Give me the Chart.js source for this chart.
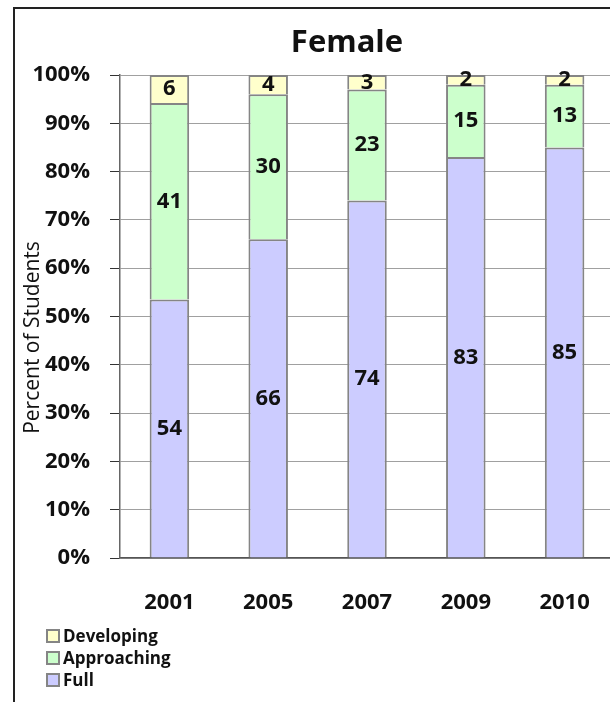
<!DOCTYPE html>
<html>
<head>
<meta charset="utf-8">
<script src="https://cdn.jsdelivr.net/npm/chart.js@4.4.1/dist/chart.umd.min.js"></script>
<style>
    html, body { margin: 0; padding: 0; background: #fff; overflow: hidden; }
    #wrap { position: relative; width: 610px; height: 702px; overflow: hidden; }
    #frame {
        position: absolute; left: 13px; top: 7px; width: 700px; height: 800px;
        border-left: 2px solid #222; border-top: 2px solid #222;
    }
    #chart { position: absolute; left: 0; top: 0; }
</style>
</head>
<body>
<div id="wrap">
    <div id="frame"></div>
    <canvas id="chart" width="640" height="702"></canvas>
</div>
<script>
const years = ['2001', '2005', '2007', '2009', '2010'];
const fullValues = [53.5, 66, 74, 83, 85];
const approachingValues = [40.7, 30, 23, 15, 13];
const developingValues = [5.8, 4, 3, 2, 2];
const chartTitle = 'Female';
const yAxisTitle = 'Percent of Students';

const fontFamily = '"Open Sans", "DejaVu Sans", sans-serif';
const barBorder = '#858585';

// numbers in the middle of each segment
const segmentLabels = {
    id: 'segmentLabels',
    afterDatasetsDraw(chart) {
        const { ctx } = chart;
        ctx.save();
        ctx.font = 'bold 22px ' + fontFamily;
        ctx.fillStyle = '#111';
        ctx.textAlign = 'center';
        ctx.textBaseline = 'middle';
        chart.data.datasets.forEach((dataset, i) => {
            const meta = chart.getDatasetMeta(i);
            meta.data.forEach((bar, j) => {
                const value = Math.round(dataset.data[j]);
                ctx.fillText(String(value), bar.x, (bar.y + bar.base) / 2);
            });
        });
        ctx.restore();
    }
};

// titles sit off-centre like the original, legend stacked under the axis
const titlesAndLegend = {
    id: 'titlesAndLegend',
    afterDraw(chart) {
        const { ctx, chartArea } = chart;
        ctx.save();
        ctx.font = 'bold 31px ' + fontFamily;
        ctx.fillStyle = '#111';
        ctx.textAlign = 'center';
        ctx.textBaseline = 'middle';
        ctx.fillText(chartTitle, (chartArea.left + chartArea.right) / 2 - 20, chartArea.top - 32);

        ctx.save();
        ctx.font = '21px ' + fontFamily;
        ctx.translate(33, (chartArea.top + chartArea.bottom) / 2 + 21);
        ctx.rotate(-Math.PI / 2);
        ctx.fillText(yAxisTitle, 0, 0);
        ctx.restore();

        const datasets = chart.data.datasets.slice().reverse();
        ctx.font = 'bold 17px ' + fontFamily;
        ctx.textAlign = 'left';
        datasets.forEach((dataset, i) => {
            const y = chartArea.bottom + 78 + i * 22;
            ctx.fillStyle = dataset.backgroundColor;
            ctx.fillRect(47, y - 6, 12, 12);
            ctx.strokeStyle = barBorder;
            ctx.lineWidth = 2;
            ctx.strokeRect(47, y - 6, 12, 12);
            ctx.fillStyle = '#111';
            ctx.fillText(dataset.label, 63, y + 1);
        });
        ctx.restore();
    }
};

new Chart(document.getElementById('chart'), {
    type: 'bar',
    data: {
        labels: years,
        datasets: [
            { label: 'Full', data: fullValues, backgroundColor: '#ccccff' },
            { label: 'Approaching', data: approachingValues, backgroundColor: '#ccffcc' },
            { label: 'Developing', data: developingValues, backgroundColor: '#ffffcc' },
        ]
    },
    options: {
        responsive: false,
        animation: false,
        layout: { padding: { left: 0, right: 26, top: 75, bottom: 84 } },
        datasets: {
            bar: {
                borderColor: barBorder,
                borderWidth: 2,
                categoryPercentage: 1,
                barPercentage: 0.4,
            }
        },
        plugins: {
            legend: { display: false },
            tooltip: { enabled: false },
            title: { display: false },
        },
        scales: {
            x: {
                stacked: true,
                grid: { display: false, drawTicks: false },
                border: { display: true, color: '#555', width: 1.5 },
                ticks: {
                    color: '#111',
                    padding: 32,
                    font: { family: fontFamily, size: 22, weight: 'bold' },
                },
                afterFit(scale) { scale.height = 60; },
            },
            y: {
                stacked: true,
                min: 0,
                max: 100,
                grid: { color: '#a0a0a0', lineWidth: 1, tickLength: 10, tickColor: '#333' },
                border: { display: true, color: '#666', width: 1.5 },
                ticks: {
                    stepSize: 10,
                    color: '#111',
                    padding: 20,
                    font: { family: fontFamily, size: 22, weight: 'bold' },
                    callback: (value) => value + '%',
                },
                afterFit(scale) { scale.width = 120; },
            }
        }
    },
    plugins: [segmentLabels, titlesAndLegend]
});
</script>
</body>
</html>
